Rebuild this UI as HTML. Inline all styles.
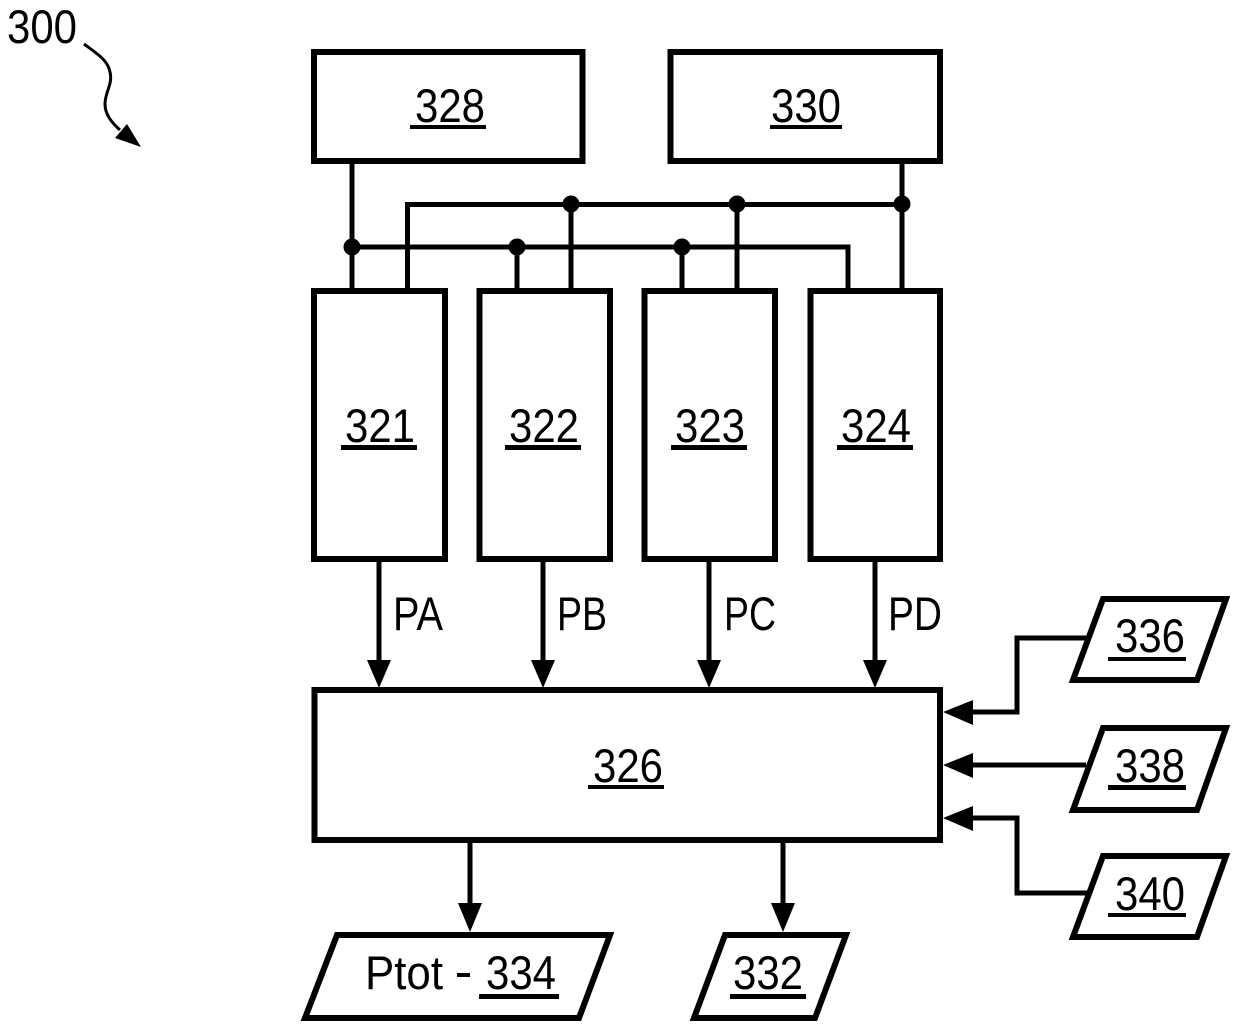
<!DOCTYPE html>
<html>
<head>
<meta charset="utf-8">
<style>
html,body{margin:0;padding:0;background:#fff;width:1240px;height:1030px;overflow:hidden}
svg{display:block}
text{font-family:"Liberation Sans","DejaVu Sans",sans-serif;font-size:47px;fill:#000;text-anchor:middle}
.s{fill:#fff;stroke:#000;stroke-width:6;stroke-linejoin:miter}
.l{fill:none;stroke:#000;stroke-width:5}
.u{fill:#000}
</style>
</head>
<body>
<svg width="1240" height="1030" viewBox="0 0 1240 1030">
<text x="42" y="43" textLength="70" lengthAdjust="spacingAndGlyphs">300</text>
<path d="M84 44C96 53 108 60 110 72C113 84 105 92 105 104C105 114 111 122 120 130" fill="none" stroke="#000" stroke-width="3"/>
<path d="M141 147L115 138L127 124z" fill="#000"/>

<path class="l" d="M352 162V291M352 247H848V291M517 247V291M682 247V291"/>
<path class="l" d="M407.5 291V204.5H902M902 162V291M571 204.500V291M737 204.500V291"/>
<g fill="#000">
<circle cx="352" cy="247" r="8.500"/><circle cx="517" cy="247" r="8.500"/><circle cx="682" cy="247" r="8.500"/>
<circle cx="571" cy="204" r="8.500"/><circle cx="737" cy="204" r="8.500"/><circle cx="902" cy="204" r="8.500"/>
</g>

<rect class="s" x="314" y="52" width="268.500" height="109"/>
<rect class="s" x="670.500" y="52" width="269.500" height="109"/>
<rect class="s" x="314" y="291" width="131" height="268"/>
<rect class="s" x="479.500" y="291" width="130.500" height="268"/>
<rect class="s" x="644.500" y="291" width="130.500" height="268"/>
<rect class="s" x="810.500" y="291" width="129.500" height="268"/>
<rect class="s" x="314.500" y="690" width="625.500" height="150"/>

<path class="s" d="M1103 599H1226L1197 680H1073Z"/>
<path class="s" d="M1103 728H1226L1197 810H1073Z"/>
<path class="s" d="M1103 856H1226L1197 937H1073Z"/>
<path class="s" d="M337 935H610L579 1018H305Z"/>
<path class="s" d="M725 935H846L815 1018H694Z"/>

<path class="l" d="M379 561V662M543 561V662M709 561V662M875 561V662"/>
<path class="l" d="M1086 638H1017V712H972"/>
<path class="l" d="M1086 765H972"/>
<path class="l" d="M1088 893H1017V818H972"/>
<path class="l" d="M470 843V905"/>
<path class="l" d="M783 843V905"/>
<g fill="#000">
<path d="M367 660H391L379 688Z"/>
<path d="M531 660H555L543 688Z"/>
<path d="M697 660H721L709 688Z"/>
<path d="M863 660H887L875 688Z"/>
<path d="M458 903H482L470 932Z"/>
<path d="M771 903H795L783 932Z"/>
<path d="M973 700V725L943 712Z"/>
<path d="M973 753V778L943 765Z"/>
<path d="M973 806V831L943 818Z"/>
</g>

<text x="450" y="122" textLength="70" lengthAdjust="spacingAndGlyphs">328</text>
<text x="806" y="122" textLength="70" lengthAdjust="spacingAndGlyphs">330</text>
<text x="380" y="442" textLength="70" lengthAdjust="spacingAndGlyphs">321</text>
<text x="544" y="442" textLength="70" lengthAdjust="spacingAndGlyphs">322</text>
<text x="710" y="442" textLength="70" lengthAdjust="spacingAndGlyphs">323</text>
<text x="876" y="442" textLength="70" lengthAdjust="spacingAndGlyphs">324</text>
<text x="628" y="782" textLength="70" lengthAdjust="spacingAndGlyphs">326</text>
<text x="1150" y="652" textLength="70" lengthAdjust="spacingAndGlyphs">336</text>
<text x="1150" y="782" textLength="70" lengthAdjust="spacingAndGlyphs">338</text>
<text x="1150" y="910" textLength="70" lengthAdjust="spacingAndGlyphs">340</text>
<text x="768" y="989" textLength="70" lengthAdjust="spacingAndGlyphs">332</text>
<text x="521" y="989" textLength="70" lengthAdjust="spacingAndGlyphs">334</text>
<rect class="u" x="410" y="125" width="76" height="4"/>
<rect class="u" x="770" y="125" width="72" height="4"/>
<rect class="u" x="341" y="445" width="76" height="5"/>
<rect class="u" x="505" y="445" width="76" height="5"/>
<rect class="u" x="671" y="445" width="76" height="5"/>
<rect class="u" x="837" y="445" width="76" height="5"/>
<rect class="u" x="588" y="785" width="76" height="4"/>
<rect class="u" x="1108" y="657" width="78" height="4"/>
<rect class="u" x="1108" y="785" width="78" height="5"/>
<rect class="u" x="1108" y="913" width="78" height="4"/>
<rect class="u" x="730" y="994" width="76" height="5"/>
<rect class="u" x="479" y="994" width="80" height="5"/>
<text x="404" y="989" textLength="78" lengthAdjust="spacingAndGlyphs">Ptot</text>
<rect class="u" x="457" y="973" width="13" height="4"/>
<text x="418" y="630" textLength="50" lengthAdjust="spacingAndGlyphs">PA</text>
<text x="582" y="630" textLength="50" lengthAdjust="spacingAndGlyphs">PB</text>
<text x="750" y="630" textLength="52" lengthAdjust="spacingAndGlyphs">PC</text>
<text x="915" y="630" textLength="54" lengthAdjust="spacingAndGlyphs">PD</text>
</svg>
</body>
</html>
